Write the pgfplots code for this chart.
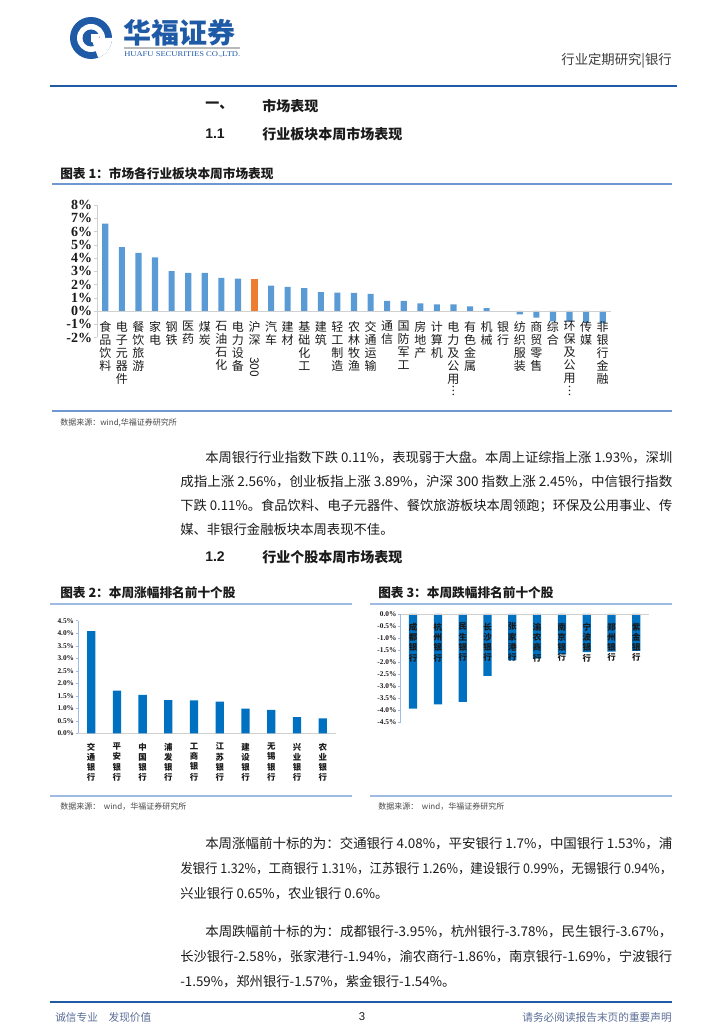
\documentclass[border=0pt]{standalone}
\usepackage{fontspec}
\setmainfont{Noto Sans CJK SC}
\newfontfamily\tnr{Liberation Serif}
\newfontfamily\arial{Liberation Sans}
\usepackage{graphicx}
\usepackage{pgfplots}
\pgfplotsset{compat=1.18}
\definecolor{barA}{HTML}{5B9BD5}
\definecolor{barO}{HTML}{ED7D31}
\definecolor{barR}{HTML}{F0605A}
\definecolor{barB}{HTML}{0070C0}
\definecolor{hdr}{HTML}{1F5AA6}
\definecolor{lblue}{HTML}{9DBBE3}
\definecolor{mblue}{HTML}{6F97D0}
\definecolor{ftr}{HTML}{5B6E96}
\definecolor{axgray}{HTML}{D0D0D0}
\definecolor{txt}{HTML}{1A1A1A}
\newcommand{\jl}[4]{\node[anchor=base west,inner sep=0pt,text=txt] at (#1,{1024-#2}) {\resizebox{#3}{\height}{\fontsize{10}{12}\selectfont #4}};}
\newcommand{\nl}[3]{\node[anchor=base west,inner sep=0pt,text=txt] at (#1,{1024-#2}) {\fontsize{10}{12}\selectfont #3};}
\begin{document}
\begin{tikzpicture}[x=0.75pt,y=0.75pt]
\useasboundingbox (0,0) rectangle (724,1024);
% ---------- header ----------
\fill[hdr] (91,{1024-38}) circle (21);
\fill[white] (91,{1024-38}) circle (14);
\fill[hdr] (91,{1024-38}) circle (8.5);
\fill[white] (91,{1024-38}) -- (112,{1024-38}) arc (0:-70:21) -- cycle;
\fill[white] (91,{1024-34}) rectangle (99,{1024-42});
\node[anchor=west,inner sep=0pt,text=hdr] at (123,{1024-33}) {\fontsize{21}{21}\selectfont\bfseries 华福证券};
\fill[gray!55] (124,{1024-49}) rectangle (240,{1024-47});
\node[anchor=west,inner sep=0pt,text=hdr] at (124,{1024-55}) {\resizebox{87pt}{\height}{\tnr\fontsize{5.5}{6}\selectfont HUAFU SECURITIES CO.,LTD.}};
\node[anchor=east,inner sep=0pt,text=txt!85] at (672,{1024-61}) {\fontsize{10}{12}\selectfont 行业定期研究|银行};
\draw[hdr,line width=1.6pt] (50,{1024-86}) -- (677,{1024-86});
% ---------- headings ----------
\node[anchor=west,inner sep=0pt,text=txt] at (205,{1024-106}) {\fontsize{10.5}{12}\selectfont\bfseries 一、};
\node[anchor=west,inner sep=0pt,text=txt] at (262,{1024-106}) {\fontsize{10.5}{12}\selectfont\bfseries 市场表现};
\node[anchor=west,inner sep=0pt,text=txt] at (205,{1024-134}) {\arial\fontsize{10.5}{12}\selectfont\bfseries 1.1};
\node[anchor=west,inner sep=0pt,text=txt] at (262,{1024-134}) {\fontsize{10.5}{12}\selectfont\bfseries 行业板块本周市场表现};
\node[anchor=west,inner sep=0pt,text=txt] at (60,{1024-174}) {\fontsize{9.5}{11}\selectfont\bfseries 图表 1：市场各行业板块本周市场表现};
\draw[mblue,line width=0.9pt] (52,{1024-184}) -- (672,{1024-184});
% ---------- chart 1 ----------
\begin{axis}[
  at={(72.75pt,514.875pt)}, anchor=south west, scale only axis,
  width=385.5pt, height=99.4pt,
  xmin=-0.5, xmax=30.5, ymin=-2, ymax=8,
  axis x line=middle, axis y line=left, axis on top,
  axis line style={-, draw=axgray, line width=0.6pt},
  /pgf/number format/assume math mode=true,
  ytick={-2,-1,0,1,2,3,4,5,6,7,8},
  yticklabel={\pgfmathprintnumber{\tick}\%},
  yticklabel style={font=\tnr\bfseries\fontsize{10.5}{10.5}\selectfont, text=txt, inner sep=1pt},
  ytick style={draw=axgray}, tick align=outside, major tick length=2.5pt,
  xtick={0,...,30},
  major x tick style={draw=none},
  xticklabel style={font=\fontsize{9}{9.7}\selectfont, text=txt, align=center, anchor=north, inner sep=0pt, yshift=-5pt},
  xticklabels={{食\\品\\饮\\料},{电\\子\\元\\器\\件},{餐\\饮\\旅\\游},{家\\电},{钢\\铁},{医\\药},{煤\\炭},{石\\油\\石\\化},{电\\力\\设\\备},{沪\\深\\\rotatebox{-90}{300}},{汽\\车},{建\\材},{基\\础\\化\\工},{建\\筑},{轻\\工\\制\\造},{农\\林\\牧\\渔},{交\\通\\运\\输},{通\\信},{国\\防\\军\\工},{房\\地\\产},{计\\算\\机},{电\\力\\及\\公\\用\\︙},{有\\色\\金\\属},{机\\械},{银\\行},{纺\\织\\服\\装},{商\\贸\\零\\售},{综\\合},{环\\保\\及\\公\\用\\︙},{传\\媒},{非\\银\\行\\金\\融}},
  clip=false,
]
\addplot[ybar, bar width=4.6pt, bar shift=0pt, fill=barA, draw=none] coordinates {
(0,6.6)(1,4.82)(2,4.38)(3,4.04)(4,3.0)(5,2.87)(6,2.87)(7,2.5)(8,2.45)
(10,1.92)(11,1.82)(12,1.72)(13,1.42)(14,1.38)(15,1.36)(16,1.30)(17,0.76)(18,0.76)
(19,0.58)(20,0.50)(21,0.50)(22,0.35)(23,0.22)(25,-0.25)(26,-0.50)(27,-0.78)(28,-0.80)(29,-0.88)(30,-0.92)};
\addplot[ybar, bar width=4.6pt, bar shift=0pt, fill=barO, draw=none] coordinates {(9,2.45)};
\addplot[ybar, bar width=4.6pt, bar shift=0pt, fill=barR, draw=none] coordinates {(24,-0.11)};
\end{axis}
\draw[mblue,line width=0.9pt] (52,{1024-411}) -- (672,{1024-411});
\node[anchor=west,inner sep=0pt,text=txt!80] at (60,{1024-423}) {\fontsize{6}{7}\selectfont 数据来源：wind,华福证券研究所};
% ---------- paragraph 1 ----------
\jl{205}{463}{350.25pt}{本周银行行业指数下跌 0.11\%，表现弱于大盘。本周上证综指上涨 1.93\%，深圳}
\jl{180}{487}{369pt}{成指上涨 2.56\%，创业板指上涨 3.89\%，沪深 300 指数上涨 2.45\%，中信银行指数}
\jl{180}{511}{369pt}{下跌 0.11\%。食品饮料、电子元器件、餐饮旅游板块本周领跑；环保及公用事业、传}
\nl{180}{535}{媒、非银行金融板块本周表现不佳。}
\node[anchor=west,inner sep=0pt,text=txt] at (205,{1024-557}) {\arial\fontsize{10.5}{12}\selectfont\bfseries 1.2};
\node[anchor=west,inner sep=0pt,text=txt] at (262,{1024-557}) {\fontsize{10.5}{12}\selectfont\bfseries 行业个股本周市场表现};
% ---------- chart 2 ----------
\node[anchor=west,inner sep=0pt,text=txt] at (60,{1024-593}) {\fontsize{9.5}{11}\selectfont\bfseries 图表 2：本周涨幅排名前十个股};
\draw[lblue,line width=1.2pt] (50,{1024-604}) -- (352,{1024-604});
\begin{axis}[
  at={(58.725pt,218.025pt)}, anchor=south west, scale only axis,
  width=193pt, height=84.5pt,
  xmin=-0.5, xmax=9.5, ymin=0, ymax=4.5,
  axis x line=bottom, axis y line=left,
  x axis line style={-, draw=axgray, line width=0.6pt},
  y axis line style={-, draw=lblue, line width=0.6pt},
  /pgf/number format/assume math mode=true,
  ytick={0,0.5,1,1.5,2,2.5,3,3.5,4,4.5},
  yticklabel={\pgfmathprintnumber[fixed,fixed zerofill,precision=1]{\tick}\%},
  yticklabel style={font=\tnr\bfseries\fontsize{5.5}{6}\selectfont, text=txt, inner sep=1pt},
  ytick style={draw=lblue}, tick align=outside, major tick length=2pt,
  xtick={0,...,9}, major x tick style={draw=none},
  xticklabel style={font=\bfseries\fontsize{6.3}{7.7}\selectfont, text=txt, align=center, anchor=north, inner sep=0pt, yshift=-5pt},
  xticklabels={{交\\通\\银\\行},{平\\安\\银\\行},{中\\国\\银\\行},{浦\\发\\银\\行},{工\\商\\银\\行},{江\\苏\\银\\行},{建\\设\\银\\行},{无\\锡\\银\\行},{兴\\业\\银\\行},{农\\业\\银\\行}},
  clip=false,
]
\addplot[ybar, bar width=6.2pt, bar shift=0pt, fill=barB, draw=none] coordinates {
(0,4.08)(1,1.70)(2,1.53)(3,1.32)(4,1.31)(5,1.26)(6,0.99)(7,0.94)(8,0.65)(9,0.60)};
\end{axis}
\draw[lblue,line width=1.2pt] (50,{1024-796}) -- (352,{1024-796});
\node[anchor=west,inner sep=0pt,text=txt!80] at (60,{1024-807}) {\fontsize{6}{7}\selectfont 数据来源：\ \ wind，华福证券研究所};
% ---------- chart 3 ----------
\node[anchor=west,inner sep=0pt,text=txt] at (378,{1024-593}) {\fontsize{9.5}{11}\selectfont\bfseries 图表 3：本周跌幅排名前十个股};
\draw[lblue,line width=1.2pt] (370,{1024-604}) -- (672,{1024-604});
\begin{axis}[
  at={(300.525pt,307.5pt)}, anchor=north west, scale only axis,
  width=186pt, height=80.8pt,
  xmin=-0.5, xmax=9.5, ymin=-4.5, ymax=0,
  axis x line=middle, axis y line=left, axis on top,
  x axis line style={-, draw=axgray, line width=0.6pt},
  y axis line style={-, draw=lblue, line width=0.6pt},
  /pgf/number format/assume math mode=true,
  ytick={-4.5,-4,-3.5,-3,-2.5,-2,-1.5,-1,-0.5,0},
  yticklabel={\pgfmathprintnumber[fixed,fixed zerofill,precision=1]{\tick}\%},
  yticklabel style={font=\tnr\bfseries\fontsize{5.5}{6}\selectfont, text=txt, inner sep=1pt},
  ytick style={draw=lblue}, tick align=outside, major tick length=2pt,
  xtick={0,...,9}, major x tick style={draw=none},
  xticklabel style={font=\bfseries\fontsize{6.3}{7.7}\selectfont, text=txt, align=center, anchor=north, inner sep=0pt, yshift=-4.5pt},
  xticklabels={{成\\都\\银\\行},{杭\\州\\银\\行},{民\\生\\银\\行},{长\\沙\\银\\行},{张\\家\\港\\行},{渝\\农\\商\\行},{南\\京\\银\\行},{宁\\波\\银\\行},{郑\\州\\银\\行},{紫\\金\\银\\行}},
  clip=false,
]
\addplot[ybar, bar width=6.2pt, bar shift=0pt, fill=barB, draw=none] coordinates {
(0,-3.95)(1,-3.78)(2,-3.67)(3,-2.58)(4,-1.94)(5,-1.86)(6,-1.69)(7,-1.59)(8,-1.57)(9,-1.54)};
\end{axis}
\draw[lblue,line width=1.2pt] (370,{1024-796}) -- (672,{1024-796});
\node[anchor=west,inner sep=0pt,text=txt!80] at (378,{1024-807}) {\fontsize{6}{7}\selectfont 数据来源：\ \ wind，华福证券研究所};
% ---------- paragraphs 2 & 3 ----------
\jl{205}{849}{350.25pt}{本周涨幅前十标的为：交通银行 4.08\%，平安银行 1.7\%，中国银行 1.53\%，浦}
\jl{180}{874}{369pt}{发银行 1.32\%，工商银行 1.31\%，江苏银行 1.26\%，建设银行 0.99\%，无锡银行 0.94\%，}
\nl{180}{899}{兴业银行 0.65\%，农业银行 0.6\%。}
\jl{205}{937}{350.25pt}{本周跌幅前十标的为：成都银行-3.95\%，杭州银行-3.78\%，民生银行-3.67\%，}
\jl{180}{962}{369pt}{长沙银行-2.58\%，张家港行-1.94\%，渝农商行-1.86\%，南京银行-1.69\%，宁波银行}
\nl{180}{987}{-1.59\%，郑州银行-1.57\%，紫金银行-1.54\%。}
% ---------- footer ----------
\draw[hdr,line width=1.4pt] (50,{1024-1002}) -- (672,{1024-1002});
\node[anchor=west,inner sep=0pt,text=ftr] at (55,{1024-1017}) {\fontsize{8}{9}\selectfont 诚信专业\quad 发现价值};
\node[inner sep=0pt,text=txt] at (362,{1024-1017}) {\arial\fontsize{8.5}{9}\selectfont 3};
\node[anchor=east,inner sep=0pt,text=ftr] at (672,{1024-1017}) {\fontsize{8}{9}\selectfont 请务必阅读报告末页的重要声明};
\end{tikzpicture}
\end{document}
